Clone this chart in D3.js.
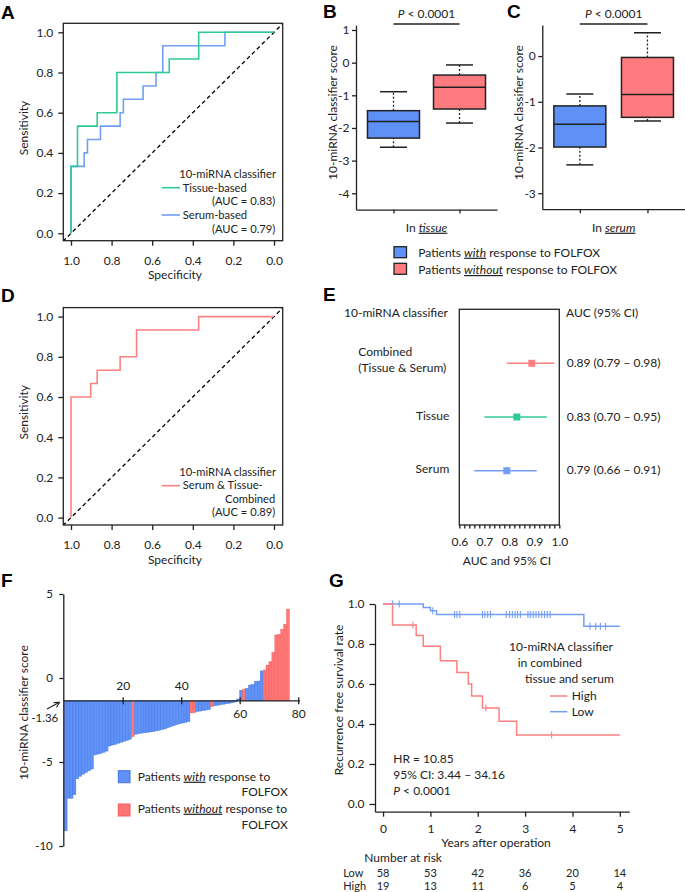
<!DOCTYPE html>
<html><head><meta charset="utf-8">
<script src="https://cdn.jsdelivr.net/npm/d3@7"></script>
<style>body{margin:0;background:#fff}svg{display:block}</style>
</head><body>
<script>
// ---------------- DATA ----------------
// Panel A: ROC step corners
const rocTissueSpec = [1,1,0.968,0.968,0.871,0.871,0.774,0.774,0.516,0.516,0.371,0.371,0];
const rocTissueSens = [0,0.333,0.333,0.533,0.533,0.6,0.6,0.8,0.8,0.867,0.867,1,1];
const rocSerumSpec = [1,1,0.935,0.935,0.919,0.919,0.855,0.855,0.758,0.758,0.742,0.742,0.645,0.645,0.581,0.581,0.548,0.548,0.242,0.242,0];
const rocSerumSens = [0,0.333,0.333,0.4,0.4,0.467,0.467,0.533,0.533,0.6,0.6,0.667,0.667,0.733,0.733,0.8,0.8,0.933,0.933,1,1];
// Panel D
const rocCombSpec = [1,1,0.903,0.903,0.871,0.871,0.758,0.758,0.677,0.677,0.371,0.371,0];
const rocCombSens = [0,0.6,0.6,0.667,0.667,0.733,0.733,0.8,0.8,0.933,0.933,1,1];
const rocTicks = [1,0.8,0.6,0.4,0.2,0];
// Panels B, C: box stats [min, q1, median, q3, max]
const boxGroups = ["with","without"];
const boxTissue = [[-2.59,-2.31,-1.80,-1.47,-0.89],[-1.85,-1.42,-0.75,-0.38,-0.07]];
const boxSerum = [[-2.38,-1.99,-1.49,-1.09,-0.83],[-1.42,-1.34,-0.84,-0.03,0.51]];
const boxTicksB = [1,0,-1,-2,-3,-4];
const boxTicksC = [0,-1,-2,-3];
// Panel E: forest
const forestLabels = ["Combined","Tissue","Serum"];
const forestAUC = [0.89,0.83,0.79];
const forestLo = [0.79,0.70,0.66];
const forestHi = [0.98,0.95,0.91];
const forestText = ["0.89 (0.79 \u2013 0.98)","0.83 (0.70 \u2013 0.95)","0.79 (0.66 \u2013 0.91)"];
// Panel F: waterfall scores (sorted)
const waterValues = [-9.1,-7.16,-7.16,-6.95,-6.0,-5.85,-5.73,-5.63,-5.52,-5.42,
  -4.58,-4.53,-4.49,-4.42,-4.35,-4.05,-3.99,-3.95,-3.89,-3.83,
  -3.77,-3.72,-3.65,-3.49,-3.35,-3.32,-3.28,-3.26,-3.24,-3.21,
  -3.19,-3.15,-3.11,-3.07,-3.03,-2.96,-2.90,-2.84,-2.78,-2.72,
  -2.68,-2.64,-2.60,-2.08,-2.06,-2.0,-1.97,-1.94,-1.91,-1.88,
  -1.71,-1.65,-1.62,-1.59,-1.56,-1.53,-1.50,-1.47,-1.43,-1.25,
  -0.73,-0.67,-0.61,-0.42,-0.38,-0.20,-0.18,0.42,0.48,0.77,
  0.97,1.53,2.56,2.60,2.90,3.20,4.10];
const waterNonResponder = [23,43,44,50,61,68,69,70,71,72,73,74,75,76];
const waterCutoff = -1.36;
const waterXTicks = [20,40,60,80];
const waterYTicks = [5,0,-5,-10];
// Panel G: Kaplan-Meier
const kmHighT = [0,0.2,0.7,0.85,1.21,1.56,1.8,1.87,2.1,2.45,2.82,5];
const kmHighS = [1,0.895,0.842,0.789,0.716,0.658,0.6,0.54,0.48,0.414,0.345,0.345];
const kmHighCens = [0.63,2.17,3.56];
const kmLowT = [0,0.85,1.0,1.13,4.24,5];
const kmLowS = [1,0.983,0.966,0.948,0.889,0.889];
const kmLowCens = [0.2,0.34,1.05,1.51,1.56,1.62,2.1,2.15,2.21,2.27,2.6,2.67,2.73,2.79,2.84,2.9,3.06,3.11,3.17,3.23,3.29,3.35,3.41,3.47,3.53,4.37,4.49,4.59,4.70];
const kmYears = [0,1,2,3,4,5];
const riskLow = [58,53,42,36,20,14];
const riskHigh = [19,13,11,6,5,4];

// ---------------- STYLE ----------------
const FONT = "Lato, 'Open Sans', sans-serif";
const INK = "#222";
const C_GREEN = "#2FCB97", C_BLUE_L = "#729EF5", C_RED_L = "#FF8080";
const C_BOX_BLUE = "#5E90F5", C_BOX_RED = "#FF7B80";
const C_BAR_BLUE = "#5F91F6", C_BAR_RED = "#FF7474";

const svg = d3.select("body").append("svg").attr("width",685).attr("height",892)
  .attr("font-family",FONT);
svg.append("rect").attr("width",685).attr("height",892).attr("fill","#fff");

function txt(g,x,y,s,o={}){
  const t=g.append("text").attr("x",x).attr("y",y).attr("font-family",o.family||FONT)
    .attr("font-size",o.fs||12).attr("fill",o.fill||INK).attr("text-anchor",o.anchor||"start").text(s);
  if(o.italic) t.attr("font-style","italic");
  if(o.weight) t.attr("font-weight",o.weight);
  if(o.rotate) t.attr("transform",`rotate(-90,${x},${y})`);
  return t;
}
function rich(g,x,y,parts,o={}){
  const t=g.append("text").attr("x",x).attr("y",y).attr("font-family",FONT)
    .attr("font-size",o.fs||12).attr("fill",INK).attr("text-anchor",o.anchor||"start");
  parts.forEach(p=>{
    const s=t.append("tspan").text(p.t);
    if(p.i) s.attr("font-style","italic");
    if(p.u) s.style("text-decoration","underline").style("text-decoration-color","#888");
  });
  return t;
}
function styleAxis(g,fs){
  g.attr("font-family",FONT).attr("font-size",fs||12);
  g.selectAll("path,line").attr("stroke",INK).attr("stroke-width",1.3);
  g.selectAll("text").attr("fill",INK);
}
function letter(x,y,s){ txt(svg,x,y,s,{family:"'Liberation Sans', Arial, sans-serif",fs:19,weight:"bold",fill:"#000"}); }

// ---------------- ROC panels (A, D) ----------------
const xROC = d3.scaleLinear().domain([1,0]).range([71,274]);
function rocPanel(dy, series, legend){
  const g = svg.append("g");
  const y = d3.scaleLinear().domain([0,1]).range([233.3+dy,32.3+dy]);
  const top=23.3+dy, bot=240.7+dy, left=63.3, right=282.7;
  g.append("defs").append("clipPath").attr("id","clip"+dy).append("rect")
    .attr("x",left).attr("y",top).attr("width",right-left).attr("height",bot-top);
  g.append("line").attr("clip-path",`url(#clip${dy})`)
    .attr("x1",xROC(1.04)).attr("y1",y(-0.04)).attr("x2",xROC(-0.045)).attr("y2",y(1.045))
    .attr("stroke","#000").attr("stroke-width",1.3).attr("stroke-dasharray","4,3");
  series.forEach(s=>{
    const pts = s.spec.map((v,i)=>[xROC(v),y(s.sens[i])]);
    g.append("path").attr("d",d3.line()(pts)).attr("fill","none").attr("stroke",s.color).attr("stroke-width",1.6);
  });
  g.append("rect").attr("x",left).attr("y",top).attr("width",right-left).attr("height",bot-top)
    .attr("fill","none").attr("stroke",INK).attr("stroke-width",1.3);
  const ax = g.append("g").attr("transform",`translate(0,${bot})`)
    .call(d3.axisBottom(xROC).tickValues(rocTicks).tickFormat(d3.format(".1f")).tickSize(5).tickPadding(10.5));
  ax.select(".domain").remove(); styleAxis(ax,12);
  const ay = g.append("g").attr("transform",`translate(${left},0)`)
    .call(d3.axisLeft(y).tickValues(rocTicks.slice().reverse()).tickFormat(d3.format(".1f")).tickSize(5).tickPadding(5));
  ay.select(".domain").remove(); styleAxis(ay,12);
  txt(g,175,279.3+dy,"Specificity",{anchor:"middle"});
  txt(g,28,128+dy,"Sensitivity",{anchor:"middle",rotate:true});
  legend(g,dy);
}
const LFS = 11.2;
rocPanel(0,[
  {spec:rocSerumSpec,sens:rocSerumSens,color:C_BLUE_L},
  {spec:rocTissueSpec,sens:rocTissueSens,color:C_GREEN}
],(g,dy)=>{
  txt(g,276,178,"10-miRNA classifier",{anchor:"end",fs:LFS});
  g.append("line").attr("x1",161.7).attr("x2",180).attr("y1",187.7).attr("y2",187.7).attr("stroke",C_GREEN).attr("stroke-width",1.6);
  txt(g,182.7,191.7,"Tissue-based",{fs:LFS});
  txt(g,275.3,205.2,"(AUC = 0.83)",{anchor:"end",fs:LFS});
  g.append("line").attr("x1",161.7).attr("x2",180).attr("y1",215).attr("y2",215).attr("stroke",C_BLUE_L).attr("stroke-width",1.6);
  txt(g,182.7,219,"Serum-based",{fs:LFS});
  txt(g,275.3,232.5,"(AUC = 0.79)",{anchor:"end",fs:LFS});
});
rocPanel(284.3,[
  {spec:rocCombSpec,sens:rocCombSens,color:C_RED_L}
],(g,dy)=>{
  txt(g,276,475.5,"10-miRNA classifier",{anchor:"end",fs:LFS});
  g.append("line").attr("x1",161.7).attr("x2",180).attr("y1",485.7).attr("y2",485.7).attr("stroke",C_RED_L).attr("stroke-width",1.6);
  txt(g,182.7,489,"Serum & Tissue-",{fs:LFS});
  txt(g,275.3,502.5,"Combined",{anchor:"end",fs:LFS});
  txt(g,275.3,516,"(AUC = 0.89)",{anchor:"end",fs:LFS});
});
letter(1,19,"A");
letter(1,302,"D");

// ---------------- Box panels (B, C) ----------------
function boxPanel(cfg){
  const g = svg.append("g");
  const y = d3.scaleLinear().domain(cfg.yDom).range([cfg.yBot,cfg.yTop]);
  const x = d3.scalePoint().domain(boxGroups).range([cfg.x0,cfg.x1]).padding(cfg.pad);
  const ay = g.append("g").attr("transform",`translate(${cfg.x0},0)`)
    .call(d3.axisLeft(y).tickValues(cfg.ticks).tickFormat(d=>String(d)).tickSize(4).tickSizeOuter(0).tickPadding(2.5));
  styleAxis(ay,12);
  const ax = g.append("g").attr("transform",`translate(0,${cfg.yBot})`)
    .call(d3.axisBottom(x).tickSize(4).tickSizeOuter(0).tickFormat(""));
  styleAxis(ax,12);
  cfg.stats.forEach((s,i)=>{
    const cx = x(boxGroups[i]), bw=52, cw=27;
    const col = i===0?C_BOX_BLUE:C_BOX_RED;
    g.append("line").attr("x1",cx).attr("x2",cx).attr("y1",y(s[0])).attr("y2",y(s[1])).attr("stroke",INK).attr("stroke-width",1.3).attr("stroke-dasharray","2,2");
    g.append("line").attr("x1",cx).attr("x2",cx).attr("y1",y(s[3])).attr("y2",y(s[4])).attr("stroke",INK).attr("stroke-width",1.3).attr("stroke-dasharray","2,2");
    [s[0],s[4]].forEach(v=>g.append("line").attr("x1",cx-cw/2).attr("x2",cx+cw/2).attr("y1",y(v)).attr("y2",y(v)).attr("stroke",INK).attr("stroke-width",1.5));
    g.append("rect").attr("x",cx-bw/2).attr("width",bw).attr("y",y(s[3])).attr("height",y(s[1])-y(s[3]))
      .attr("fill",col).attr("stroke",INK).attr("stroke-width",1.5);
    g.append("line").attr("x1",cx-bw/2).attr("x2",cx+bw/2).attr("y1",y(s[2])).attr("y2",y(s[2])).attr("stroke",INK).attr("stroke-width",1.5);
  });
  const xa=x(boxGroups[0]), xb=x(boxGroups[1]);
  g.append("line").attr("x1",xa).attr("x2",xb).attr("y1",24).attr("y2",24).attr("stroke",INK).attr("stroke-width",1.3);
  rich(g,(xa+xb)/2,18,[{t:"P",i:true},{t:" < 0.0001"}],{anchor:"middle"});
  rich(g,(xa+xb)/2,231.7,[{t:"In "},{t:cfg.where,i:true,u:true}],{anchor:"middle"});
  txt(g,cfg.labX,112.5,"10-miRNA classifier score",{anchor:"middle",rotate:true});
}
boxPanel({yDom:[-4.5,1.15],yBot:209.6,yTop:25.1,x0:356,x1:497,pad:0.568,ticks:boxTicksB,stats:boxTissue,where:"tissue",labX:337});
boxPanel({yDom:[-3.35,0.68],yBot:209.2,yTop:25,x0:542.3,x1:685,pad:0.555,ticks:boxTicksC,stats:boxSerum,where:"serum",labX:522.5});
letter(323,18,"B");
letter(507,18,"C");
// legend B/C
svg.append("rect").attr("x",394).attr("y",246.7).attr("width",12.5).attr("height",11).attr("fill",C_BOX_BLUE).attr("stroke",INK).attr("stroke-width",1.3);
svg.append("rect").attr("x",394).attr("y",263.3).attr("width",12.5).attr("height",11).attr("fill",C_BOX_RED).attr("stroke",INK).attr("stroke-width",1.3);
rich(svg,418.3,256.7,[{t:"Patients "},{t:"with",i:true,u:true},{t:" response to FOLFOX"}]);
rich(svg,418.3,274,[{t:"Patients "},{t:"without",i:true,u:true},{t:" response to FOLFOX"}]);

// ---------------- Forest (E) ----------------
(function(){
  const g = svg.append("g");
  const x = d3.scaleLinear().domain([0.6,1.0]).range([459.3,559.3]);
  const y = d3.scalePoint().domain(forestLabels).range([363.3,470.7]);
  const cols = [C_RED_L,C_GREEN,C_BLUE_L];
  g.append("rect").attr("x",459.3).attr("y",309.3).attr("width",100).attr("height",215.7)
    .attr("fill","none").attr("stroke",INK).attr("stroke-width",1.3);
  const ax = g.append("g").attr("transform","translate(0,525)")
    .call(d3.axisBottom(x).tickValues(d3.range(0,21).map(i=>0.6+i*0.02)).tickSize(3.5).tickSizeOuter(0).tickPadding(8.5)
      .tickFormat(d=>Math.abs(d*10-Math.round(d*10))<1e-6?d3.format(".1f")(d):""));
  styleAxis(ax,12); ax.select(".domain").remove();
  forestLabels.forEach((l,i)=>{
    const yy=y(l);
    g.append("line").attr("x1",x(forestLo[i])).attr("x2",x(forestHi[i])).attr("y1",yy).attr("y2",yy).attr("stroke",cols[i]).attr("stroke-width",1.5);
    g.append("rect").attr("x",x(forestAUC[i])-3.5).attr("y",yy-3.5).attr("width",7).attr("height",7).attr("fill",cols[i]);
    txt(g,566.7,yy+3.5,forestText[i]);
  });
  txt(g,344,317.3,"10-miRNA classifier");
  txt(g,566,317.3,"AUC (95% CI)");
  txt(g,358.3,356,"Combined");
  txt(g,358.3,371.7,"(Tissue & Serum)");
  txt(g,449.3,420,"Tissue",{anchor:"end"});
  txt(g,449.3,473.3,"Serum",{anchor:"end"});
  txt(g,507,565,"AUC and 95% CI",{anchor:"middle"});
})();
letter(323,301,"E");

// ---------------- Waterfall (F) ----------------
(function(){
  const g = svg.append("g");
  const x = d3.scaleLinear().domain([0,80]).range([64.2,298.2]);
  const y = d3.scaleLinear().domain([-10,5]).range([846,594]);
  const base = y(waterCutoff);
  const red = new Set(waterNonResponder);
  waterValues.forEach((v,i)=>{
    const isR = red.has(i);
    g.append("rect").attr("x",x(i)).attr("width",x(i+1)-x(i))
      .attr("y",Math.min(base,y(v))).attr("height",Math.abs(y(v)-base))
      .attr("fill",isR?C_BAR_RED:C_BAR_BLUE).attr("stroke",isR?"#F25C5C":"#3F74E6").attr("stroke-width",0.4);
  });
  const ay = g.append("g").attr("transform","translate(63.3,0)")
    .call(d3.axisLeft(y).tickValues(waterYTicks).tickFormat(d=>String(d)).tickSize(4).tickSizeOuter(0).tickPadding(6.5));
  styleAxis(ay,11.5);
  const ax = g.append("g").attr("transform",`translate(0,${base})`)
    .call(d3.axisBottom(x).tickValues(waterXTicks).tickFormat(d=>String(d)).tickSize(3.5).tickSizeOuter(0));
  styleAxis(ax,12);
  ax.select(".domain").attr("d",`M${63.3},0H300`);
  ax.selectAll(".tick line").attr("y1",-3.5).attr("y2",3.5);
  ax.selectAll(".tick text").attr("dy",null).attr("y",d=>d<50?-10.5:17);
  txt(g,58.3,721.7,"-1.36",{anchor:"end",fs:11.5});
  g.append("line").attr("x1",47).attr("y1",709).attr("x2",59).attr("y2",702.6).attr("stroke",INK).attr("stroke-width",1.1);
  g.append("path").attr("d","M59.8,702.2 L53.6,702.6 M59.8,702.2 L56.4,707.2").attr("stroke",INK).attr("stroke-width",1.1).attr("fill","none");
  txt(g,28,712.6,"10-miRNA classifier score",{anchor:"middle",rotate:true});
  g.append("rect").attr("x",118.3).attr("y",770.7).attr("width",11.7).attr("height",12).attr("fill",C_BAR_BLUE).attr("stroke","#3F74E6").attr("stroke-width",1);
  g.append("rect").attr("x",118.3).attr("y",804).attr("width",11.7).attr("height",12).attr("fill",C_BAR_RED).attr("stroke","#F25C5C").attr("stroke-width",1);
  rich(g,137.7,780.7,[{t:"Patients "},{t:"with",i:true,u:true},{t:" response to"}]);
  txt(g,287.7,796,"FOLFOX",{anchor:"end"});
  rich(g,137.7,812.7,[{t:"Patients "},{t:"without",i:true,u:true},{t:" response to"}]);
  txt(g,287.7,828.7,"FOLFOX",{anchor:"end"});
})();
letter(1,587,"F");

// ---------------- Kaplan-Meier (G) ----------------
(function(){
  const g = svg.append("g");
  const x = d3.scaleLinear().domain([-0.17,5.2]).range([375,629.3]);
  const y = d3.scaleLinear().domain([-0.0385,1]).range([811.7,604]);
  const line = d3.line().curve(d3.curveStepAfter);
  function km(T,S,cens,col){
    g.append("path").attr("d",line(T.map((t,i)=>[x(t),y(S[i])]))).attr("fill","none").attr("stroke",col).attr("stroke-width",1.5);
    cens.forEach(c=>{
      let s=S[0]; T.forEach((t,i)=>{ if(t<=c) s=S[i]; });
      g.append("line").attr("x1",x(c)).attr("x2",x(c)).attr("y1",y(s)-3.5).attr("y2",y(s)+3.5).attr("stroke",col).attr("stroke-width",1.1);
    });
  }
  km(kmLowT,kmLowS,kmLowCens,C_BLUE_L);
  km(kmHighT,kmHighS,kmHighCens,C_RED_L);
  const ay = g.append("g").attr("transform","translate(375,0)")
    .call(d3.axisLeft(y).tickValues([0,0.2,0.4,0.6,0.8,1]).tickFormat(d3.format(".1f")).tickSize(5.5).tickSizeOuter(0).tickPadding(5));
  styleAxis(ay,12);
  const ax = g.append("g").attr("transform","translate(0,811.7)")
    .call(d3.axisBottom(x).tickValues(kmYears).tickFormat(d=>String(d)).tickSize(5).tickSizeOuter(0).tickPadding(7.5));
  styleAxis(ax,12);
  txt(g,343,700,"Recurrence free survival rate",{anchor:"middle",rotate:true});
  txt(g,496,847.3,"Years after operation",{anchor:"middle"});
  txt(g,364.3,862.3,"Number at risk");
  txt(g,343.3,877.3,"Low",{fs:11});
  txt(g,343.3,889.5,"High",{fs:11});
  kmYears.forEach((t,i)=>{
    txt(g,x(t),877.3,String(riskLow[i]),{anchor:"middle",fs:11});
    txt(g,x(t),889.5,String(riskHigh[i]),{anchor:"middle",fs:11});
  });
  txt(g,509,650.7,"10-miRNA classifier");
  txt(g,517.7,666.7,"in combined");
  txt(g,525,682.7,"tissue and serum");
  g.append("line").attr("x1",550).attr("x2",567.3).attr("y1",696).attr("y2",696).attr("stroke",C_RED_L).attr("stroke-width",1.5);
  txt(g,571.7,699.8,"High");
  g.append("line").attr("x1",550).attr("x2",567.3).attr("y1",711.7).attr("y2",711.7).attr("stroke",C_BLUE_L).attr("stroke-width",1.5);
  txt(g,571.7,715.5,"Low");
  txt(g,393.3,763.3,"HR = 10.85");
  txt(g,393.3,779,"95% CI: 3.44 \u2013 34.16");
  rich(g,393.3,795,[{t:"P",i:true},{t:" < 0.0001"}]);
})();
letter(329,587,"G");
</script>
</body></html>
